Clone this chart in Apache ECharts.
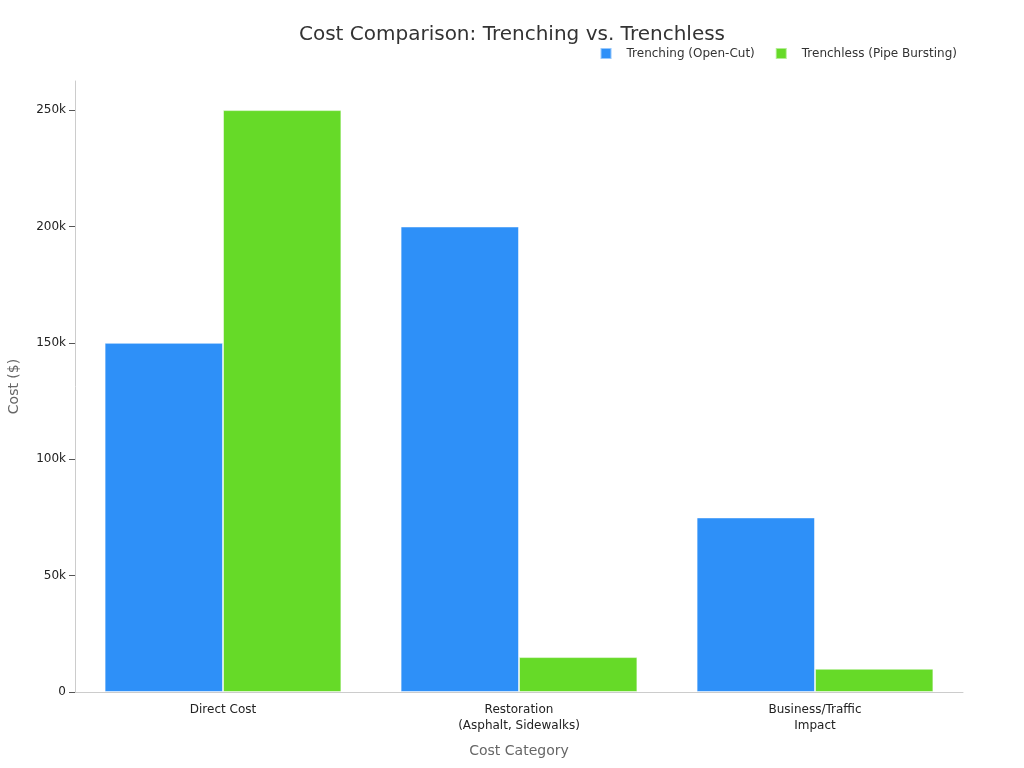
<!DOCTYPE html>
<html>
<head>
<meta charset="utf-8">
<script src="https://cdn.jsdelivr.net/npm/echarts@6/dist/echarts.min.js"></script>
<style>html,body{margin:0;padding:0;background:#fff}#c{width:1024px;height:768px}</style>
</head>
<body>
<div id="c"></div>
<script>
const categories = ['Direct Cost', 'Restoration\n(Asphalt, Sidewalks)', 'Business/Traffic\nImpact'];
const trenching = [150000, 200000, 75000];
const trenchless = [250000, 15000, 10000];
const yTicks = [0, 50000, 100000, 150000, 200000, 250000];
const seriesNames = ['Trenching (Open-Cut)', 'Trenchless (Pipe Bursting)'];

const chart = echarts.init(document.getElementById('c'));
const fmt = v => v === 0 ? '0' : (v / 1000) + 'k';
chart.setOption({
  animation: false,
  textStyle: { fontFamily: 'DejaVu Sans' },
  title: {
    text: 'Cost Comparison: Trenching vs. Trenchless',
    left: 'center', top: 20,
    textStyle: { fontSize: 20, fontWeight: 'normal', color: '#333', fontFamily: 'DejaVu Sans' }
  },
  legend: {
    top: 42, right: 62,
    itemWidth: 11, itemHeight: 11, itemGap: 20,
    icon: 'rect',
    textStyle: { fontSize: 12, color: '#333', padding: [0, 0, 0, 10] },
    data: seriesNames
  },
  grid: { left: 75, right: 61, top: 81, bottom: 76, outerBoundsMode: 'none', containLabel: false },
  xAxis: {
    type: 'category',
    data: categories,
    name: 'Cost Category',
    nameLocation: 'middle',
    nameGap: 52,
    nameTextStyle: { fontSize: 14, color: '#666' },
    axisLine: { lineStyle: { color: '#ccc' } },
    axisTick: { alignWithLabel: true, lineStyle: { color: '#999' } },
    axisLabel: { fontSize: 12, color: '#222', lineHeight: 16, margin: 10 }
  },
  yAxis: {
    type: 'value',
    min: 0, max: 262500,
    name: 'Cost ($)',
    nameLocation: 'middle',
    nameGap: 54,
    nameTextStyle: { fontSize: 14, color: '#666' },
    axisLine: { show: true, lineStyle: { color: '#ccc' } },
    axisTick: { show: true, length: 6, customValues: yTicks, lineStyle: { color: '#555' } },
    axisLabel: { customValues: yTicks, formatter: fmt, fontSize: 12, color: '#222', margin: 9 },
    splitLine: { show: false }
  },
  series: [
    {
      name: seriesNames[0], type: 'bar', data: trenching,
      barGap: '0%', barCategoryGap: '20%',
      itemStyle: { color: '#2E90F8', borderColor: 'rgba(255,255,255,0.5)', borderWidth: 1 }
    },
    {
      name: seriesNames[1], type: 'bar', data: trenchless,
      barGap: '0%', barCategoryGap: '20%',
      itemStyle: { color: '#66DA28', borderColor: 'rgba(255,255,255,0.5)', borderWidth: 1 }
    }
  ]
});
</script>
</body>
</html>
